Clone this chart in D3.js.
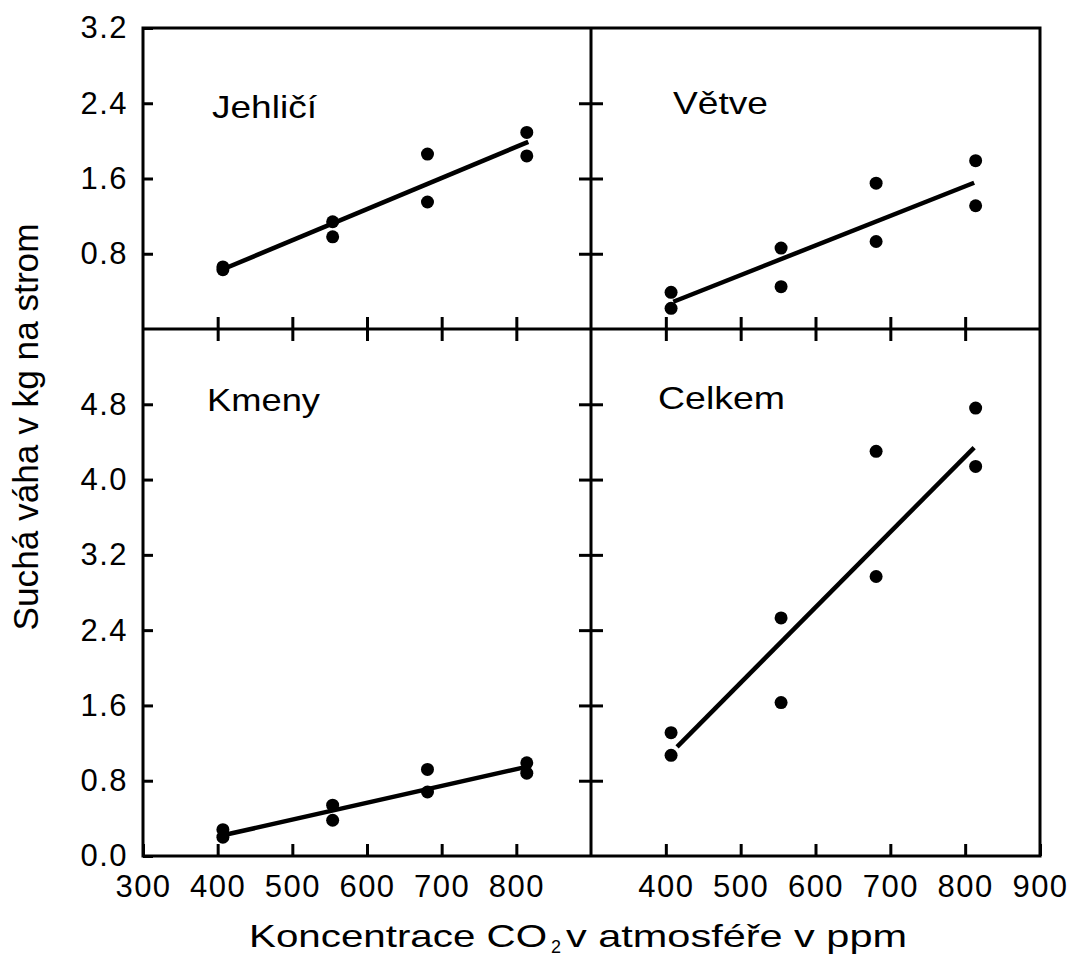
<!DOCTYPE html>
<html>
<head>
<meta charset="utf-8">
<script src="https://cdn.jsdelivr.net/npm/d3@7"></script>
<style>
  body { margin: 0; background: #fff; }
  svg { display: block; }
  text { font-family: "Liberation Sans", Arial, Helvetica, sans-serif; fill: #000; }
  .tick text { font-size: 31px; letter-spacing: 1.5px; }
  .tick line { stroke: #000; stroke-width: 3; }
</style>
</head>
<body>
<svg width="1072" height="958"></svg>
<script>
// CO2 concentration levels (ppm)
var co2 = [407, 554, 681, 814];

// two trees per level, upper and lower value (kg dry weight)
var jehliciHi = [0.66, 1.14, 1.86, 2.09];
var jehliciLo = [0.63, 0.98, 1.35, 1.84];
var vetveHi = [0.39, 0.86, 1.55, 1.79];
var vetveLo = [0.22, 0.45, 0.93, 1.31];
var kmenyHi = [0.28, 0.54, 0.92, 0.99];
var kmenyLo = [0.20, 0.38, 0.68, 0.88];
var celkemHi = [1.31, 2.53, 4.30, 4.76];
var celkemLo = [1.07, 1.63, 2.97, 4.14];

// regression line end points [ppm, kg]
var jehliciFit = [[407, 0.635], [816, 1.99]];
var vetveFit = [[410, 0.29], [812, 1.555]];
var kmenyFit = [[407, 0.22], [815, 0.95]];
var celkemFit = [[415, 1.16], [812, 4.34]];

var xTicksLeft = [300, 400, 500, 600, 700, 800];
var xTicksRight = [400, 500, 600, 700, 800, 900];
var xTicksMid = [400, 500, 600, 700, 800];
var yTicksTop = [0.8, 1.6, 2.4, 3.2];
var yTicksBottom = [0.0, 0.8, 1.6, 2.4, 3.2, 4.0, 4.8];

var svg = d3.select('svg');

var xLeft = d3.scaleLinear().domain([300, 900]).range([143, 591]);
var xRight = d3.scaleLinear().domain([300, 900]).range([591, 1040]);
var yTop = d3.scaleLinear().domain([0, 3.2]).range([329, 28]);
var yBottom = d3.scaleLinear().domain([0, 5.6]).range([856, 329]);

var fmt = d3.format('.1f');

var panels = [
  { title: 'Jehličí', tx: 212, ty: 118, tl: 105, x: xLeft, y: yTop, hi: jehliciHi, lo: jehliciLo, fit: jehliciFit },
  { title: 'Větve', tx: 673, ty: 114, tl: 95, x: xRight, y: yTop, hi: vetveHi, lo: vetveLo, fit: vetveFit },
  { title: 'Kmeny', tx: 207, ty: 411, tl: 113, x: xLeft, y: yBottom, hi: kmenyHi, lo: kmenyLo, fit: kmenyFit },
  { title: 'Celkem', tx: 658, ty: 409, tl: 127, x: xRight, y: yBottom, hi: celkemHi, lo: celkemLo, fit: celkemFit }
];

// left y axes with labels, ticks pointing inward
svg.append('g')
  .attr('transform', 'translate(' + xLeft(300) + ',0)')
  .call(d3.axisLeft(yTop).tickValues(yTicksTop).tickSize(-10).tickPadding(15).tickFormat(fmt))
  .call(function(g) { g.select('.domain').remove(); });

svg.append('g')
  .attr('transform', 'translate(' + xLeft(300) + ',0)')
  .call(d3.axisLeft(yBottom).tickValues(yTicksBottom).tickSize(-10).tickPadding(15).tickFormat(fmt))
  .call(function(g) { g.select('.domain').remove(); });

// middle vertical line ticks (crossing)
svg.append('g')
  .attr('transform', 'translate(' + (xRight(300) + 12) + ',0)')
  .call(d3.axisLeft(yTop).tickValues([0.8, 1.6, 2.4]).tickSize(24).tickFormat(''))
  .call(function(g) { g.select('.domain').remove(); });

svg.append('g')
  .attr('transform', 'translate(' + (xRight(300) + 12) + ',0)')
  .call(d3.axisLeft(yBottom).tickValues([0.8, 1.6, 2.4, 3.2, 4.0, 4.8]).tickSize(24).tickFormat(''))
  .call(function(g) { g.select('.domain').remove(); });

// middle horizontal line ticks (crossing)
[xLeft, xRight].forEach(function(sc) {
  svg.append('g')
    .attr('transform', 'translate(0,' + (yTop(0) - 12) + ')')
    .call(d3.axisBottom(sc).tickValues(xTicksMid).tickSize(24).tickFormat(''))
    .call(function(g) { g.select('.domain').remove(); });
});

// bottom x axes
svg.append('g')
  .attr('transform', 'translate(0,' + yBottom(0) + ')')
  .call(d3.axisBottom(xLeft).tickValues(xTicksLeft).tickSize(-12).tickPadding(19).tickFormat(d3.format('d')))
  .call(function(g) { g.select('.domain').remove(); });

svg.append('g')
  .attr('transform', 'translate(0,' + yBottom(0) + ')')
  .call(d3.axisBottom(xRight).tickValues(xTicksRight).tickSize(-12).tickPadding(19).tickFormat(d3.format('d')))
  .call(function(g) { g.select('.domain').remove(); });

// frame
var frame = svg.append('g').attr('stroke', '#000').attr('stroke-width', 3).attr('fill', 'none');
frame.append('rect')
  .attr('x', xLeft(300)).attr('y', yTop(3.2))
  .attr('width', xRight(900) - xLeft(300)).attr('height', yBottom(0) - yTop(3.2));
frame.append('line')
  .attr('x1', xRight(300)).attr('x2', xRight(300))
  .attr('y1', yTop(3.2)).attr('y2', yBottom(0));
frame.append('line')
  .attr('x1', xLeft(300)).attr('x2', xRight(900))
  .attr('y1', yTop(0)).attr('y2', yTop(0));

// panels
panels.forEach(function(p) {
  var g = svg.append('g');

  var line = d3.line()
    .x(function(d) { return p.x(d[0]); })
    .y(function(d) { return p.y(d[1]); });

  g.append('path')
    .datum(p.fit)
    .attr('d', line)
    .attr('fill', 'none')
    .attr('stroke', '#000')
    .attr('stroke-width', 4.5);

  var pts = co2.map(function(c, i) { return [c, p.hi[i]]; })
    .concat(co2.map(function(c, i) { return [c, p.lo[i]]; }));

  g.selectAll('circle')
    .data(pts)
    .enter().append('circle')
    .attr('cx', function(d) { return p.x(d[0]); })
    .attr('cy', function(d) { return p.y(d[1]); })
    .attr('r', 6.5)
    .attr('fill', '#000');

  g.append('text')
    .attr('x', p.tx)
    .attr('y', p.ty)
    .attr('font-size', 32)
    .attr('textLength', p.tl)
    .attr('lengthAdjust', 'spacingAndGlyphs')
    .text(p.title);
});

// y label
svg.append('text')
  .attr('transform', 'translate(38,427) rotate(-90)')
  .attr('text-anchor', 'middle')
  .attr('font-size', 35)
  .attr('textLength', 407)
  .attr('lengthAdjust', 'spacingAndGlyphs')
  .text('Suchá váha v kg na strom');

// x label
svg.append('text')
  .attr('x', 249).attr('y', 947)
  .attr('font-size', 32)
  .attr('textLength', 298)
  .attr('lengthAdjust', 'spacingAndGlyphs')
  .text('Koncentrace CO');
svg.append('text')
  .attr('x', 551).attr('y', 953)
  .attr('font-size', 18)
  .text('2');
svg.append('text')
  .attr('x', 566).attr('y', 947)
  .attr('font-size', 32)
  .attr('textLength', 341)
  .attr('lengthAdjust', 'spacingAndGlyphs')
  .text('v atmosféře v ppm');
</script>
</body>
</html>
